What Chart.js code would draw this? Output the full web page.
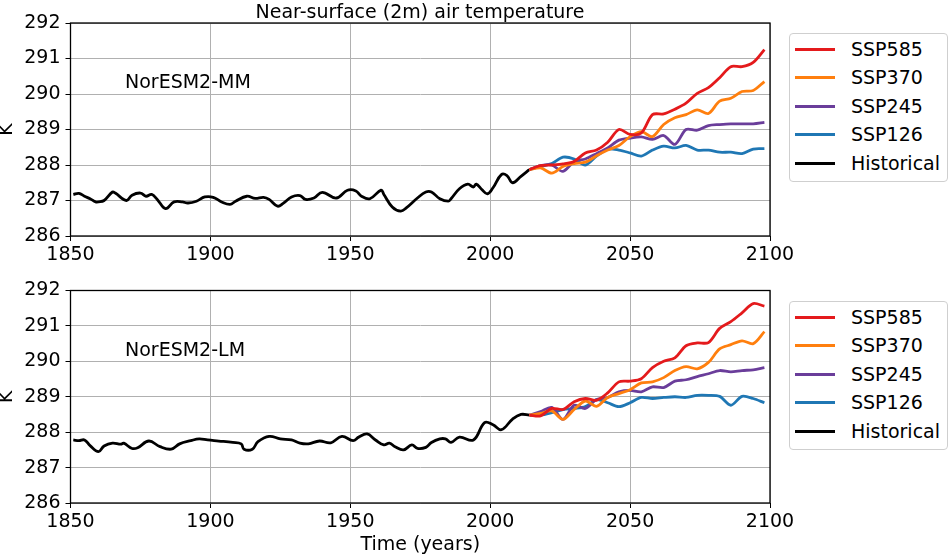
<!DOCTYPE html>
<html>
<head>
<meta charset="utf-8">
<script src="https://cdn.jsdelivr.net/npm/chart.js@4.4.1/dist/chart.umd.min.js"></script>
<style>
body { margin: 0; background: #fff; width: 951px; height: 556px; overflow: hidden; position: relative; font-family: 'DejaVu Sans', sans-serif; color: #000; }
.box { position: absolute; left: 0; width: 800px; }
#topBox { top: 0; height: 275px; }
#botBox { top: 268px; height: 288px; }
.title { position: absolute; left: 70px; width: 700px; top: 0; line-height: 22px; text-align: center; font-size: 19px; }
.model { position: absolute; left: 125px; line-height: 22px; font-size: 19px; }
.legend { position: absolute; left: 789px; width: 157px; height: 147px; border: 1px solid #cfcfcf; border-radius: 4px; background: #fff; }
.row { position: absolute; left: 5px; height: 28px; line-height: 28px; font-size: 19px; white-space: nowrap; }
.row span { display: inline-block; width: 40px; height: 3px; vertical-align: middle; margin-right: 16px; position: relative; top: -1px; }
</style>
</head>
<body>
<div class="box" id="topBox"><canvas id="mmChart"></canvas></div>
<div class="box" id="botBox"><canvas id="lmChart"></canvas></div>
<div class="title">Near-surface (2m) air temperature</div>
<div class="model" style="top:70px">NorESM2-MM</div>
<div class="model" style="top:338px">NorESM2-LM</div>
<div class="legend" id="mmLegend" style="top:33px"></div>
<div class="legend" id="lmLegend" style="top:301px"></div>
<script>
const xTicks = [1850, 1900, 1950, 2000, 2050, 2100];
const yTicks = [286, 287, 288, 289, 290, 291, 292];
const seriesNames = ['SSP585', 'SSP370', 'SSP245', 'SSP126', 'Historical'];

// scenario years (every 4 years from end of historical)
const years = [2014, 2018, 2022, 2026, 2030, 2034, 2038, 2042, 2046, 2050, 2054,
               2058, 2062, 2066, 2070, 2074, 2078, 2082, 2086, 2090, 2094, 2098];

// NorESM2-MM
const mmHistYears = [1851, 1853, 1855, 1857, 1859, 1860, 1862, 1865, 1866, 1870, 1872, 1875, 1877, 1879,
  1881, 1884, 1887, 1890, 1892, 1895, 1898, 1901, 1904, 1907, 1909, 1913, 1916, 1919, 1921, 1924, 1926,
  1929, 1932, 1934, 1937, 1940, 1945, 1949, 1952, 1954, 1957, 1961, 1962, 1965, 1968, 1970, 1974, 1977,
  1979, 1982, 1985, 1986, 1989, 1992, 1994, 1995, 1997, 1999, 2001, 2004, 2006, 2008, 2011, 2014];
const mmHist = [287.17, 287.2, 287.12, 287.05, 286.96, 286.96, 287.0, 287.24, 287.21, 287.0, 287.15, 287.21, 287.12, 287.17,
  287.03, 286.77, 286.96, 286.96, 286.93, 286.98, 287.1, 287.09, 286.96, 286.89, 286.98, 287.12, 287.06, 287.09, 287.03, 286.84, 286.92,
  287.1, 287.14, 287.03, 287.07, 287.23, 287.07, 287.29, 287.27, 287.12, 287.05, 287.29, 287.17, 286.82, 286.7, 286.79, 287.07, 287.24,
  287.24, 287.05, 286.98, 287.05, 287.33, 287.46, 287.38, 287.46, 287.31, 287.19, 287.36, 287.73, 287.7, 287.5, 287.68, 287.87];
const mmSsp585 = [287.87, 287.98, 288.0, 288.03, 288.1, 288.34, 288.42, 288.64, 289.0, 288.86, 288.9,
  289.42, 289.44, 289.57, 289.74, 290.02, 290.18, 290.46, 290.77, 290.77, 290.89, 291.25];
const mmSsp370 = [287.87, 287.92, 287.77, 287.96, 288.04, 288.08, 288.26, 288.42, 288.55, 288.8, 288.94,
  288.8, 289.14, 289.33, 289.42, 289.55, 289.45, 289.8, 289.88, 290.07, 290.1, 290.35];
const mmSsp245 = [287.87, 287.98, 288.0, 287.82, 288.1, 288.17, 288.32, 288.48, 288.7, 288.76, 288.79,
  288.72, 288.83, 288.58, 289.0, 288.98, 289.11, 289.14, 289.16, 289.16, 289.16, 289.2];
const mmSsp126 = [287.87, 287.96, 288.04, 288.22, 288.17, 288.0, 288.25, 288.45, 288.42, 288.34, 288.25,
  288.42, 288.53, 288.48, 288.55, 288.42, 288.42, 288.36, 288.36, 288.32, 288.45, 288.46];

// NorESM2-LM
const lmHistYears = [1851, 1853, 1855, 1857, 1860, 1862, 1865, 1868, 1869, 1872, 1874, 1878, 1882, 1886,
  1889, 1893, 1896, 1899, 1903, 1908, 1911, 1912, 1915, 1917, 1921, 1925, 1929, 1932, 1935, 1939, 1943,
  1947, 1951, 1953, 1956, 1959, 1962, 1964, 1966, 1969, 1972, 1974, 1977, 1979, 1982, 1984, 1986, 1989,
  1994, 1998, 2001, 2004, 2008, 2011, 2014];
const lmHist = [287.78, 287.76, 287.78, 287.62, 287.45, 287.61, 287.69, 287.66, 287.69, 287.54, 287.56, 287.75, 287.59, 287.52,
  287.67, 287.76, 287.81, 287.78, 287.75, 287.71, 287.67, 287.52, 287.52, 287.73, 287.88, 287.81, 287.78, 287.69, 287.67, 287.75, 287.7,
  287.88, 287.76, 287.86, 287.95, 287.78, 287.64, 287.69, 287.59, 287.5, 287.64, 287.54, 287.57, 287.71, 287.81, 287.81, 287.71, 287.86,
  287.78, 288.27, 288.21, 288.07, 288.37, 288.5, 288.48];
const lmSsp585 = [288.48, 288.46, 288.67, 288.64, 288.86, 288.95, 288.9, 289.11, 289.42, 289.44, 289.51,
  289.82, 290.0, 290.1, 290.44, 290.52, 290.53, 290.93, 291.12, 291.37, 291.63, 291.56];
const lmSsp370 = [288.48, 288.53, 288.6, 288.36, 288.64, 288.88, 288.73, 288.98, 289.09, 289.2, 289.39,
  289.42, 289.54, 289.74, 289.85, 289.79, 289.97, 290.35, 290.47, 290.58, 290.5, 290.84];
const lmSsp245 = [288.48, 288.58, 288.7, 288.36, 288.76, 288.67, 288.92, 288.98, 289.14, 289.18, 289.14,
  289.28, 289.26, 289.44, 289.48, 289.57, 289.65, 289.74, 289.7, 289.74, 289.76, 289.82];
const lmSsp126 = [288.48, 288.48, 288.55, 288.64, 288.67, 288.72, 288.92, 288.83, 288.72, 288.83, 288.98,
  288.95, 288.98, 289.0, 288.98, 289.04, 289.04, 289.01, 288.76, 289.01, 288.95, 288.83];

const colors = ['#e41a1c', '#ff7f0e', '#6a3d9a', '#1f77b4', '#000000'];
const font = { family: 'DejaVu Sans', size: 19 };

const framePlugin = {
  id: 'frame',
  afterDraw(chart) {
    const a = chart.chartArea;
    const ctx = chart.ctx;
    ctx.save();
    ctx.strokeStyle = '#000';
    ctx.lineWidth = 1.3;
    ctx.strokeRect(a.left, a.top, a.right - a.left, a.bottom - a.top);
    ctx.restore();
  }
};

function toPoints(xs, ys) {
  return xs.map((x, i) => ({ x: x, y: ys[i] }));
}

function makeChart(id, histYears, hist, scenarios, opts) {
  const datasets = scenarios.map((vals, i) => ({
    label: seriesNames[i],
    data: toPoints(years, vals),
    borderColor: colors[i],
    borderWidth: 2.8,
    pointRadius: 0,
    tension: 0.3
  }));
  datasets.push({
    label: seriesNames[4],
    data: toPoints(histYears, hist),
    borderColor: colors[4],
    borderWidth: 2.8,
    pointRadius: 0,
    tension: 0.4
  });

  return new Chart(document.getElementById(id), {
    type: 'line',
    data: { datasets: datasets },
    plugins: [framePlugin],
    options: {
      responsive: true,
      maintainAspectRatio: false,
      animation: false,
      layout: { padding: { top: opts.padTop, right: 30, left: 0, bottom: 0 } },
      plugins: { legend: { display: false }, tooltip: { enabled: false } },
      scales: {
        x: {
          type: 'linear',
          min: 1850,
          max: 2100,
          afterBuildTicks: s => { s.ticks = xTicks.map(v => ({ value: v })); },
          afterFit: s => { s.height = opts.xHeight; },
          ticks: { font: font, color: '#000', padding: 3, maxRotation: 0, autoSkip: false, callback: v => String(v) },
          grid: { color: '#b0b0b0', lineWidth: 1, tickColor: '#000', tickLength: 5 },
          border: { display: false },
          title: { display: opts.xTitle, text: 'Time (years)', font: font, color: '#000', padding: { top: 0, bottom: 0 } }
        },
        y: {
          min: 286,
          max: 292,
          afterBuildTicks: s => { s.ticks = yTicks.map(v => ({ value: v })); },
          afterFit: s => { s.width = 70.5; },
          ticks: { font: font, color: '#000', padding: 5, callback: v => String(v) },
          grid: { color: '#b0b0b0', lineWidth: 1, tickColor: '#000', tickLength: 5 },
          border: { display: false },
          title: { display: true, text: 'K', font: { family: 'DejaVu Sans', size: 19, lineHeight: 0.75 }, color: '#000', padding: { top: 0, bottom: 0 } }
        }
      }
    }
  });
}

function makeLegend(id) {
  const box = document.getElementById(id);
  seriesNames.forEach((name, i) => {
    const row = document.createElement('div');
    row.className = 'row';
    row.style.top = (1 + 28.4 * i) + 'px';
    row.innerHTML = `<span style="background:${colors[i]}"></span>${name}`;
    box.appendChild(row);
  });
}

makeChart('mmChart', mmHistYears, mmHist, [mmSsp585, mmSsp370, mmSsp245, mmSsp126],
  { padTop: 23, xHeight: 39, xTitle: false });
makeChart('lmChart', lmHistYears, lmHist, [lmSsp585, lmSsp370, lmSsp245, lmSsp126],
  { padTop: 22.5, xHeight: 53, xTitle: true });
makeLegend('mmLegend');
makeLegend('lmLegend');
</script>
</body>
</html>
